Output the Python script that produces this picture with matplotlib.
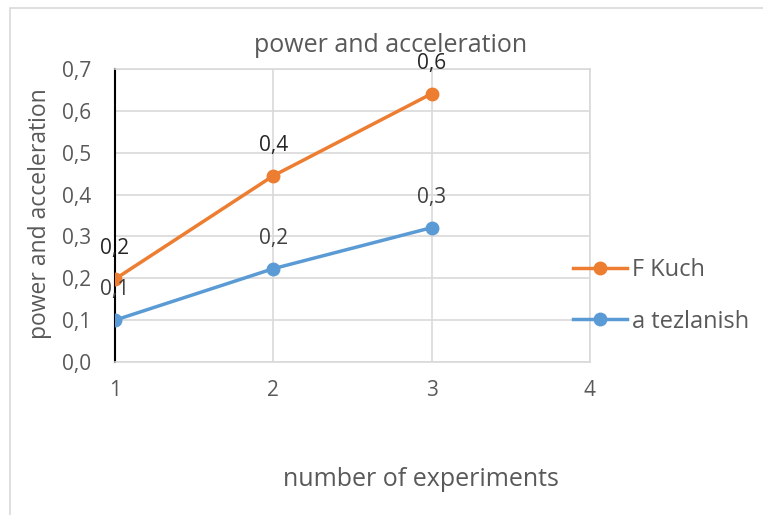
import numpy as np
import matplotlib.pyplot as plt
from matplotlib.patches import Rectangle

# data
experiments = [1, 2, 3]
f_kuch = [0.198, 0.445, 0.641]
a_tezlanish = [0.100, 0.223, 0.321]
f_labels = ['0,2', '0,4', '0,6']
a_labels = ['0,1', '0,2', '0,3']
yticks = [0.0, 0.1, 0.2, 0.3, 0.4, 0.5, 0.6, 0.7]
xticks = [1, 2, 3, 4]

plt.rcParams["font.family"] = ["Open Sans", "DejaVu Sans"]
txt = '#595959'

fig = plt.figure(figsize=(7.63, 5.15), dpi=100)
fig.patches.append(Rectangle((10 / 763, -0.01), 1.0, 1 - 8 / 515 + 0.01, transform=fig.transFigure,
                             fill=False, edgecolor='#d9d9d9', linewidth=1.2))
ax = fig.add_axes([115 / 763, 1 - 362 / 515, 475 / 763, 293 / 515])

ax.plot(experiments, f_kuch, color='#ed7d31', linewidth=2.5, marker='o', markersize=9,
        label='F Kuch', zorder=3)
ax.plot(experiments, a_tezlanish, color='#5b9bd5', linewidth=2.5, marker='o', markersize=9,
        label='a tezlanish', zorder=3)

# data labels above the points
for x, y, s in zip(experiments, f_kuch, f_labels):
    ax.annotate(s, (x, y), xytext=(0, 22), textcoords='offset points', ha='center',
                va='center', fontsize=15, color='#262626')
for x, y, s in zip(experiments, a_tezlanish, a_labels):
    ax.annotate(s, (x, y), xytext=(0, 22), textcoords='offset points', ha='center',
                va='center', fontsize=15, color='#404040')

ax.set_xlim(1, 4)
ax.set_ylim(0, 0.7)
ax.set_yticks(yticks)
ax.set_yticklabels([f'{v:.1f}'.replace('.', ',') for v in yticks])
ax.set_xticks(xticks)
ax.grid(True, color='#d9d9d9', linewidth=1.2)
ax.set_axisbelow(True)
for side in ['top', 'right', 'bottom']:
    ax.spines[side].set_color('#d9d9d9')
    ax.spines[side].set_linewidth(1.2)
ax.spines['left'].set_color('black')
ax.spines['left'].set_linewidth(1.5)
ax.tick_params(length=0, labelsize=15, labelcolor=txt)
ax.tick_params(axis='x', pad=13)
ax.tick_params(axis='y', pad=17)

fig.text(391 / 763, 1 - 45 / 515, 'power and acceleration', fontsize=18, color=txt,
         ha='center', va='center')
fig.text(40 / 763, 1 - 214 / 515, 'power and acceleration', fontsize=16.5, color=txt,
         ha='center', va='center', rotation=90)
fig.text(421 / 763, 1 - 480 / 515, 'number of experiments', fontsize=18, color=txt,
         ha='center', va='center')

fig.legend(handles=ax.get_lines(), loc='center left', bbox_to_anchor=(573 / 763, 1 - 296 / 515),
           frameon=False, fontsize=17, labelcolor=txt, handlelength=2.3, handletextpad=0.2,
           labelspacing=1.15, borderaxespad=0, borderpad=0)

fig.savefig('out.png', dpi=100)
